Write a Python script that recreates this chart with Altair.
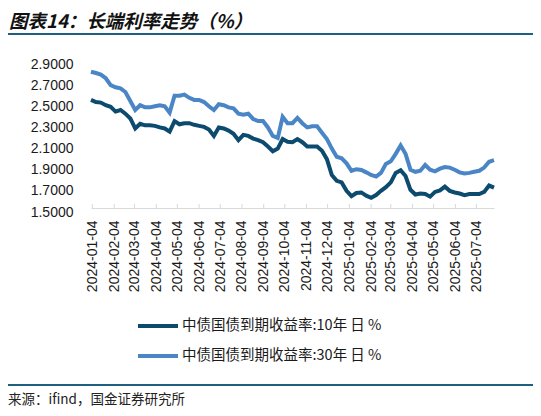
import pandas as pd
import altair as alt

# weekly readings, 2024-01-02 .. 2025-07-30
dates = pd.date_range("2024-01-02", periods=83, freq="7D")

ten_y = [
    2.56, 2.54, 2.535, 2.51, 2.495, 2.45, 2.465, 2.43, 2.385, 2.29,
    2.335, 2.32, 2.32, 2.315, 2.30, 2.29, 2.26, 2.36, 2.33, 2.34,
    2.34, 2.325, 2.315, 2.305, 2.28, 2.22, 2.30, 2.29, 2.27, 2.24,
    2.18, 2.23, 2.22, 2.195, 2.18, 2.16, 2.12, 2.075, 2.10, 2.19,
    2.165, 2.16, 2.19, 2.16, 2.12, 2.12, 2.12, 2.08, 2.00, 1.85,
    1.795, 1.78, 1.70, 1.65, 1.68, 1.685, 1.655, 1.635, 1.66, 1.70,
    1.735, 1.78, 1.87, 1.895, 1.84, 1.71, 1.665, 1.675, 1.67, 1.645,
    1.69, 1.705, 1.74, 1.70, 1.685, 1.675, 1.66, 1.67, 1.67, 1.67,
    1.69, 1.75, 1.73,
]

thirty_y = [
    2.827, 2.815, 2.80, 2.765, 2.70, 2.68, 2.67, 2.635, 2.55, 2.465,
    2.51, 2.49, 2.49, 2.50, 2.51, 2.50, 2.44, 2.60, 2.60, 2.61,
    2.58, 2.56, 2.56, 2.54, 2.50, 2.465, 2.52, 2.51, 2.49, 2.48,
    2.43, 2.42, 2.43, 2.38, 2.36, 2.36, 2.30, 2.22, 2.20, 2.40,
    2.34, 2.34, 2.39, 2.34, 2.30, 2.31, 2.31, 2.25, 2.19, 2.10,
    2.023, 2.008, 1.96, 1.89, 1.905, 1.897, 1.875, 1.85, 1.835, 1.87,
    1.955, 1.98, 2.05, 2.13, 2.05, 1.90, 1.88, 1.89, 1.945, 1.90,
    1.885, 1.91, 1.925, 1.92, 1.90, 1.875, 1.865, 1.87, 1.88, 1.89,
    1.92, 1.975, 1.99,
]

series_names = ["中债国债到期收益率:10年 日 %", "中债国债到期收益率:30年 日 %"]
series_colors = ["#0c4a6e", "#4a86c6"]
y_ticks = [1.5, 1.7, 1.9, 2.1, 2.3, 2.5, 2.7, 2.9]
tick_dates = [(2024, m) for m in range(1, 13)] + [(2025, m) for m in range(1, 8)]

title_text = "图表14：长端利率走势（%）"
source_text = "来源：ifind，国金证券研究所"

W, H = 403, 148

df = pd.concat([
    pd.DataFrame({"date": dates, "value": ten_y, "series": series_names[0]}),
    pd.DataFrame({"date": dates, "value": thirty_y, "series": series_names[1]}),
])
ticks_df = pd.DataFrame({"date": [pd.Timestamp(y, m, 4) for y, m in tick_dates]})
one = pd.DataFrame({"a": [0]})

# same x axis on both layers so the merge keeps every label
x_axis = alt.Axis(values=[alt.DateTime(year=y, month=m, date=4) for y, m in tick_dates],
                  format="%Y-%m-%d", labelAngle=270, ticks=False, tickSize=0,
                  domainColor="#d9d9d9", domainWidth=1, offset=-4,
                  labelPadding=12, labelFont="Liberation Sans", labelFontSize=14,
                  labelColor="#1a1a1a", grid=False, labelOverlap=False,
                  labelBound=False, labelFlush=False, title=None)
x_scale = alt.Scale(nice=False)

lines = alt.Chart(df).mark_line(strokeWidth=4).encode(
    x=alt.X("date:T", scale=x_scale, axis=x_axis),
    y=alt.Y("value:Q", title=None, scale=alt.Scale(domain=[1.5, 2.9], nice=False, zero=False),
            axis=alt.Axis(values=y_ticks, format=".4f", domain=False, ticks=False, grid=False,
                          labelPadding=18, labelFont="Liberation Sans", labelFontSize=14,
                          labelColor="#1a1a1a")),
    color=alt.Color("series:N", scale=alt.Scale(domain=series_names, range=series_colors),
                    legend=alt.Legend(title=None, orient="none", legendX=45, legendY=240,
                                      direction="vertical", symbolType="stroke",
                                      symbolSize=1600, symbolStrokeWidth=4, labelOffset=2,
                                      labelFont="Noto Sans CJK SC", labelFontSize=14.5,
                                      labelColor="#1a1a1a", rowPadding=-11, padding=0,
                                      labelLimit=400)),
)

ticks = alt.Chart(ticks_df).mark_rule(color="#d9d9d9", strokeWidth=1).encode(
    x=alt.X("date:T", scale=x_scale, axis=x_axis), y=alt.value(H - 8), y2=alt.value(H - 4)
)

top_rule = alt.Chart(one).mark_rule(color="#1f6080", strokeWidth=2).encode(
    x=alt.value(-86), x2=alt.value(444), y=alt.value(-30)
)
bottom_rule = alt.Chart(one).mark_rule(color="#1f6080", strokeWidth=2).encode(
    x=alt.value(-86), x2=alt.value(444), y=alt.value(321)
)

title = alt.Chart(one).mark_text(text=title_text, align="left", baseline="middle",
                                 font="Noto Sans CJK SC", fontSize=18.5, fontWeight="bold",
                                 fontStyle="italic", color="#111").encode(
    x=alt.value(-82), y=alt.value(-42)
)
source = alt.Chart(one).mark_text(text=source_text, align="left", baseline="middle",
                                  font="Noto Sans CJK SC", fontSize=13.5, color="#222").encode(
    x=alt.value(-83), y=alt.value(336)
)

chart = alt.layer(ticks, lines, top_rule, bottom_rule, title, source).properties(
    width=W, height=H,
    autosize=alt.AutoSizeParams(type="none"),
    padding={"left": 83, "top": 56, "right": 39, "bottom": 196},
).configure_view(stroke=None)

chart.save("out.html", embed_options={"renderer": "svg", "actions": False})
